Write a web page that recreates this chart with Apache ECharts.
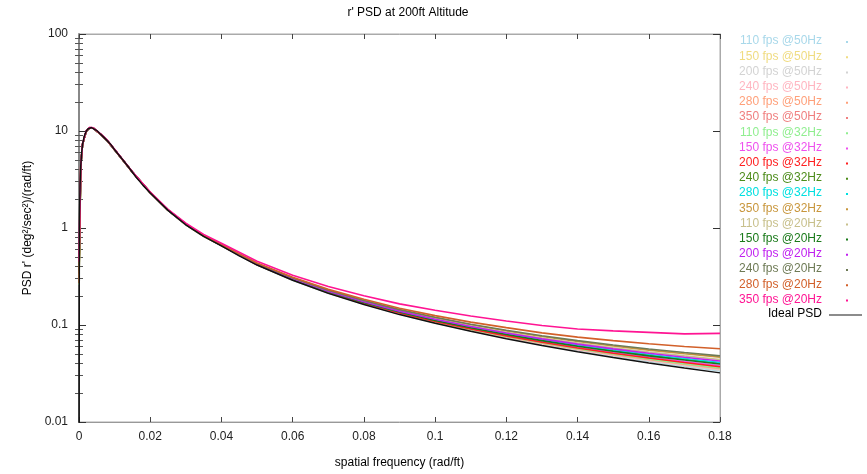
<!DOCTYPE html>
<html>
<head>
<meta charset="utf-8">
<script src="https://cdn.jsdelivr.net/npm/echarts@6/dist/echarts.min.js"></script>
<style>html,body{margin:0;padding:0;background:#fff}#c{width:867px;height:474px}</style>
</head>
<body>
<div id="c"></div>
<script>
// ---- data ----
const titleText = "r' PSD at 200ft Altitude";
const xTitle = "spatial frequency (rad/ft)";
const yTitle = "PSD r' (deg\u00B2/sec\u00B2)/(rad/ft)";

const seriesNames = [
  "110 fps @50Hz", "150 fps @50Hz", "200 fps @50Hz", "240 fps @50Hz", "280 fps @50Hz", "350 fps @50Hz",
  "110 fps @32Hz", "150 fps @32Hz", "200 fps @32Hz", "240 fps @32Hz", "280 fps @32Hz", "350 fps @32Hz",
  "110 fps @20Hz", "150 fps @20Hz", "200 fps @20Hz", "240 fps @20Hz", "280 fps @20Hz", "350 fps @20Hz"
];
const seriesColors = [
  "#a8d8ea", "#f0dc82", "#d3d3d3", "#ffb6c1", "#ffa07a", "#f08080",
  "#90ee90", "#ee50ee", "#ff2020", "#4d8c1a", "#00e0e0", "#c8963c",
  "#c8c08c", "#1a7a1a", "#c020f0", "#6e7a55", "#d2602a", "#ff1493"
];

// ideal PSD
const idealFreq = [0, 0.0001, 0.0003, 0.0005, 0.00075, 0.001, 0.0015, 0.002, 0.0025, 0.003, 0.0035, 0.004, 0.005, 0.006, 0.007, 0.008, 0.009, 0.01, 0.012, 0.014, 0.016, 0.018, 0.02, 0.025, 0.03, 0.035, 0.04, 0.045, 0.05, 0.06, 0.07, 0.08, 0.09, 0.1, 0.11, 0.12, 0.13, 0.14, 0.15, 0.16, 0.17, 0.18];
const idealPSD  = [0.001, 1.1, 2.8, 4.4, 6.0, 7.3, 8.9, 9.9, 10.5, 10.8, 10.85, 10.7, 10.1, 9.3, 8.6, 7.9, 7.2, 6.4, 5.2, 4.2, 3.35, 2.75, 2.3, 1.52, 1.08, 0.82, 0.655, 0.515, 0.415, 0.289, 0.212, 0.163, 0.128, 0.104, 0.086, 0.0722, 0.0615, 0.053, 0.0462, 0.0406, 0.036, 0.0321];

// measured PSDs share one frequency grid
const measFreq = [0, 0.0005, 0.001, 0.002, 0.003, 0.004, 0.006, 0.008, 0.01, 0.015, 0.02, 0.025, 0.03, 0.035, 0.04, 0.05, 0.06, 0.07, 0.08, 0.09, 0.1, 0.11, 0.12, 0.13, 0.14, 0.15, 0.16, 0.17, 0.18];
const psd110at50 = [0.30, 4.4, 7.3, 9.9, 10.8, 10.7, 9.3, 7.9, 6.4, 3.75, 2.30, 1.52, 1.08, 0.82, 0.657, 0.417, 0.290, 0.214, 0.165, 0.130, 0.1055, 0.0875, 0.0737, 0.063, 0.0545, 0.0477, 0.0421, 0.0375, 0.0336];
const psd150at50 = [0.35, 4.4, 7.3, 9.9, 10.8, 10.7, 9.3, 7.9, 6.4, 3.76, 2.30, 1.52, 1.08, 0.82, 0.658, 0.418, 0.292, 0.215, 0.166, 0.131, 0.1065, 0.0885, 0.0747, 0.064, 0.0555, 0.0487, 0.0431, 0.0385, 0.0346];
const psd200at50 = [0.28, 4.4, 7.3, 9.9, 10.8, 10.7, 9.3, 7.9, 6.4, 3.75, 2.30, 1.52, 1.08, 0.82, 0.657, 0.417, 0.291, 0.214, 0.165, 0.130, 0.106, 0.088, 0.0742, 0.0635, 0.055, 0.0482, 0.0426, 0.038, 0.0341];
const psd240at50 = [0.40, 4.4, 7.3, 9.9, 10.8, 10.7, 9.3, 7.9, 6.4, 3.76, 2.30, 1.52, 1.08, 0.82, 0.658, 0.418, 0.292, 0.215, 0.166, 0.131, 0.107, 0.089, 0.0752, 0.0645, 0.056, 0.0492, 0.0436, 0.039, 0.0351];
const psd280at50 = [0.33, 4.4, 7.3, 9.9, 10.8, 10.7, 9.3, 7.9, 6.4, 3.76, 2.31, 1.52, 1.08, 0.82, 0.659, 0.419, 0.293, 0.216, 0.1665, 0.1315, 0.1075, 0.0895, 0.0757, 0.065, 0.0565, 0.0497, 0.0441, 0.0395, 0.0356];
const psd350at50 = [0.45, 4.4, 7.3, 9.9, 10.8, 10.7, 9.3, 7.9, 6.4, 3.76, 2.31, 1.53, 1.09, 0.83, 0.660, 0.42, 0.294, 0.2165, 0.1675, 0.1325, 0.1085, 0.0905, 0.0767, 0.066, 0.0575, 0.0507, 0.0451, 0.0405, 0.0366];
const psd110at32 = [0.26, 4.4, 7.3, 9.9, 10.8, 10.7, 9.3, 7.9, 6.4, 3.76, 2.31, 1.52, 1.08, 0.82, 0.659, 0.419, 0.293, 0.216, 0.167, 0.132, 0.108, 0.090, 0.0762, 0.0655, 0.057, 0.0502, 0.0446, 0.04, 0.0361];
const psd150at32 = [0.50, 4.4, 7.3, 9.9, 10.8, 10.7, 9.3, 7.9, 6.4, 3.77, 2.31, 1.53, 1.09, 0.83, 0.661, 0.421, 0.295, 0.218, 0.169, 0.134, 0.110, 0.092, 0.0782, 0.0675, 0.059, 0.0522, 0.0466, 0.042, 0.0381];
const psd200at32 = [0.38, 4.4, 7.3, 9.9, 10.8, 10.7, 9.3, 7.9, 6.4, 3.76, 2.31, 1.53, 1.09, 0.83, 0.660, 0.42, 0.294, 0.217, 0.168, 0.133, 0.109, 0.091, 0.0772, 0.0665, 0.058, 0.0512, 0.0456, 0.041, 0.0371];
const psd240at32 = [0.31, 4.4, 7.3, 9.9, 10.8, 10.7, 9.3, 7.9, 6.4, 3.77, 2.32, 1.53, 1.09, 0.83, 0.664, 0.424, 0.298, 0.221, 0.172, 0.137, 0.1125, 0.0945, 0.0807, 0.07, 0.0615, 0.0547, 0.0491, 0.0445, 0.0406];
const psd280at32 = [0.42, 4.4, 7.3, 9.9, 10.8, 10.7, 9.3, 7.9, 6.4, 3.77, 2.32, 1.53, 1.09, 0.83, 0.664, 0.424, 0.298, 0.221, 0.172, 0.137, 0.113, 0.095, 0.0812, 0.0705, 0.062, 0.0552, 0.0496, 0.045, 0.0411];
const psd350at32 = [0.55, 4.4, 7.3, 9.9, 10.8, 10.7, 9.3, 7.9, 6.4, 3.78, 2.32, 1.54, 1.10, 0.84, 0.670, 0.43, 0.304, 0.227, 0.178, 0.143, 0.1185, 0.1005, 0.0867, 0.076, 0.0675, 0.0607, 0.0551, 0.0505, 0.0466];
const psd110at20 = [0.29, 4.4, 7.3, 9.9, 10.8, 10.7, 9.3, 7.9, 6.4, 3.77, 2.32, 1.53, 1.09, 0.83, 0.667, 0.427, 0.301, 0.224, 0.175, 0.14, 0.116, 0.098, 0.0842, 0.0735, 0.065, 0.0582, 0.0526, 0.048, 0.0441];
const psd150at20 = [0.36, 4.4, 7.3, 9.9, 10.8, 10.7, 9.3, 7.9, 6.4, 3.77, 2.31, 1.53, 1.09, 0.83, 0.663, 0.423, 0.297, 0.22, 0.171, 0.136, 0.1115, 0.0935, 0.0797, 0.069, 0.0605, 0.0537, 0.0481, 0.0435, 0.0396];
const psd200at20 = [0.48, 4.4, 7.3, 9.9, 10.8, 10.7, 9.3, 7.9, 6.4, 3.77, 2.32, 1.53, 1.09, 0.83, 0.666, 0.426, 0.30, 0.223, 0.174, 0.139, 0.1145, 0.0965, 0.0827, 0.072, 0.0635, 0.0567, 0.0511, 0.0465, 0.0426];
const psd240at20 = [0.34, 4.4, 7.3, 9.9, 10.8, 10.7, 9.3, 7.9, 6.4, 3.78, 2.33, 1.54, 1.10, 0.84, 0.671, 0.431, 0.305, 0.228, 0.179, 0.144, 0.12, 0.102, 0.0882, 0.0775, 0.069, 0.0622, 0.0566, 0.052, 0.0481];
const psd280at20 = [0.27, 4.4, 7.3, 9.9, 10.8, 10.7, 9.3, 7.9, 6.4, 3.78, 2.33, 1.54, 1.10, 0.84, 0.675, 0.435, 0.31, 0.233, 0.184, 0.149, 0.125, 0.107, 0.094, 0.083, 0.075, 0.069, 0.064, 0.060, 0.057];
const psd350at20 = [0.45, 4.5, 7.4, 10.0, 10.9, 10.8, 9.4, 8.0, 6.5, 3.8, 2.35, 1.56, 1.12, 0.86, 0.695, 0.455, 0.325, 0.25, 0.2, 0.165, 0.142, 0.124, 0.11, 0.099, 0.091, 0.087, 0.084, 0.081, 0.082];

const measuredPSD = [psd110at50, psd150at50, psd200at50, psd240at50, psd280at50, psd350at50,
  psd110at32, psd150at32, psd200at32, psd240at32, psd280at32, psd350at32,
  psd110at20, psd150at20, psd200at20, psd240at20, psd280at20, psd350at20];

const xTicks = [0, 0.02, 0.04, 0.06, 0.08, 0.1, 0.12, 0.14, 0.16, 0.18];
const yMinorTicks = [0.02,0.03,0.04,0.05,0.06,0.07,0.08,0.09,0.2,0.3,0.4,0.5,0.6,0.7,0.8,0.9,2,3,4,5,6,7,8,9,20,30,40,50,60,70,80,90];

// ---- chart ----
const FONT = "'Liberation Sans', Arial, sans-serif";
const chart = echarts.init(document.getElementById('c'), null, {renderer: 'canvas'});
const G = {left: 79, right: 147, top: 34, bottom: 50};

const series = seriesNames.map((name, i) => ({
  name: name, type: 'line', xAxisIndex: 0, yAxisIndex: 0,
  data: measFreq.map((f, k) => [f, measuredPSD[i][k]]),
  showSymbol: false, smooth: false,
  lineStyle: {color: seriesColors[i], width: 1.6},
  itemStyle: {color: seriesColors[i]},
  z: 2 + i, animation: false
}));
series.push({
  name: 'Ideal PSD', type: 'line', xAxisIndex: 0, yAxisIndex: 0,
  data: idealFreq.map((f, k) => [f, idealPSD[k]]),
  showSymbol: false, smooth: false,
  lineStyle: {color: '#111', width: 1.5}, itemStyle: {color: '#666'},
  z: 30, animation: false
});

// legend drawn as text + marker
const legendGraphics = [];
seriesNames.forEach((name, i) => {
  const y = 42 + i * 15.2;
  legendGraphics.push({type: 'text', right: 867 - 822, top: y - 7,
    style: {text: name, fill: seriesColors[i], font: '12px ' + FONT, textAlign: 'right'}});
  legendGraphics.push({type: 'rect', left: 846, top: y - 1, shape: {width: 2, height: 2},
    style: {fill: seriesColors[i]}});
});
legendGraphics.push({type: 'text', right: 867 - 822, top: 315 - 7,
  style: {text: 'Ideal PSD', fill: '#000', font: '12px ' + FONT, textAlign: 'right'}});
legendGraphics.push({type: 'line', shape: {x1: 829, y1: 315, x2: 862, y2: 315},
  style: {stroke: '#666', lineWidth: 1.5}});

// minor tick positions on a linear decade scale (-2..2 = 0.01..100)
const minorTickPos = yMinorTicks.map(v => Math.log10(v));

const tickLbl = {color: '#222', fontSize: 12, fontFamily: FONT};
chart.setOption({
  animation: false,
  backgroundColor: '#fff',
  title: {text: titleText, left: 403, top: 2, textAlign: 'center',
    textStyle: {fontSize: 12, fontWeight: 'normal', color: '#000', fontFamily: FONT}},
  grid: Object.assign({show: true, borderColor: '#aaa', borderWidth: 1}, G),
  xAxis: [
    {type: 'value', min: 0, max: 0.18, interval: 0.02, position: 'bottom',
     name: xTitle, nameLocation: 'middle', nameGap: 35,
     nameTextStyle: {fontSize: 12, color: '#000', fontFamily: FONT},
     axisLine: {show: true, onZero: false, lineStyle: {color: '#999', width: 1}},
     axisTick: {show: true, inside: true, length: 5, lineStyle: {color: '#444'}},
     axisLabel: Object.assign({margin: 9, customValues: xTicks}, tickLbl),
     splitLine: {show: false}},
    {type: 'value', min: 0, max: 0.18, interval: 0.02, position: 'top',
     axisLine: {show: true, onZero: false, lineStyle: {color: '#aaa'}},
     axisTick: {show: true, inside: true, length: 5, lineStyle: {color: '#444'}},
     axisLabel: {show: false}, splitLine: {show: false}}
  ],
  yAxis: [
    {type: 'log', min: 0.01, max: 100, logBase: 10, position: 'left',
     name: yTitle, nameLocation: 'middle', nameGap: 43, nameRotate: 90,
     nameTextStyle: {fontSize: 12, color: '#000', fontFamily: FONT},
     axisLine: {show: true, onZero: false, lineStyle: {color: '#888', width: 2}},
     axisTick: {show: true, inside: true, length: 7, lineStyle: {color: '#333'}},
     axisLabel: Object.assign({margin: 11}, tickLbl),
     splitLine: {show: false}},
    {type: 'log', min: 0.01, max: 100, logBase: 10, position: 'right',
     axisLine: {show: true, onZero: false, lineStyle: {color: '#aaa'}},
     axisTick: {show: true, inside: true, length: 7, lineStyle: {color: '#333'}},
     axisLabel: {show: false}, splitLine: {show: false}},
    {type: 'value', min: -2, max: 2, position: 'left',
     axisLine: {show: false},
     axisTick: {show: true, inside: true, length: 4, customValues: minorTickPos, lineStyle: {color: '#555'}},
     axisLabel: {show: false}, splitLine: {show: false}},
    {type: 'value', min: -2, max: 2, position: 'right',
     axisLine: {show: false},
     axisTick: {show: true, inside: true, length: 4, customValues: minorTickPos, lineStyle: {color: '#555'}},
     axisLabel: {show: false}, splitLine: {show: false}}
  ],
  graphic: legendGraphics,
  series: series
});
</script>
</body>
</html>
